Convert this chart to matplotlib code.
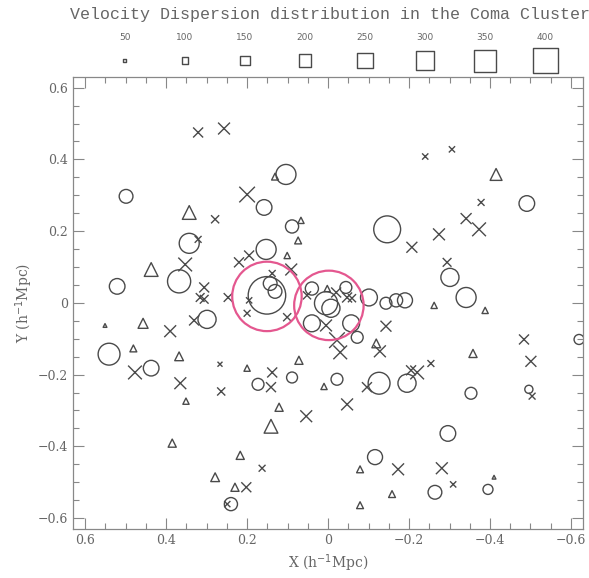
import numpy as np
import matplotlib
matplotlib.use("Agg")
import matplotlib.pyplot as plt
from matplotlib.ticker import MultipleLocator

# galaxies drawn as circles: x, y (h^-1 Mpc), velocity dispersion (km/s)
circ_x = [0.499, 0.521, 0.343, 0.368, 0.299, 0.104, 0.158, 0.089, 0.153, -0.146,
          -0.491, -0.301, -0.341, 0.541, 0.437, 0.240, 0.173, 0.089, -0.022, -0.126,
          -0.195, -0.116, -0.353, -0.296, -0.264, -0.395, -0.496, -0.620, 0.151, 0.143,
          0.131, 0.040, -0.044, 0.005, -0.007, 0.040, -0.057, -0.072, -0.101, -0.143,
          -0.168, -0.190]
circ_y = [0.297, 0.046, 0.166, 0.060, -0.046, 0.358, 0.266, 0.213, 0.149, 0.205,
          0.277, 0.071, 0.015, -0.143, -0.182, -0.561, -0.227, -0.208, -0.213, -0.224,
          -0.224, -0.430, -0.252, -0.364, -0.528, -0.520, -0.241, -0.102, 0.021, 0.054,
          0.032, 0.040, 0.043, -0.001, -0.015, -0.057, -0.057, -0.096, 0.015, -0.001,
          0.007, 0.007]
circ_sig = [220, 250, 320, 370, 290, 320, 250, 210, 320, 430,
            250, 290, 320, 350, 250, 210, 190, 175, 190, 350,
            290, 240, 190, 250, 220, 160, 130, 160, 600, 220,
            220, 210, 190, 370, 290, 270, 270, 190, 270, 190,
            210, 240]

tri_x = [0.343, 0.437, 0.067, 0.074, 0.101, 0.131, -0.415, -0.262, -0.388, 0.551,
         0.457, 0.481, 0.368, 0.351, 0.385, 0.279, 0.217, 0.230, 0.200, 0.072,
         0.121, 0.141, 0.010, -0.119, -0.079, -0.079, -0.158, -0.358, -0.410, 0.002]
tri_y = [0.252, 0.093, 0.230, 0.174, 0.132, 0.352, 0.358, -0.007, -0.021, -0.063,
         -0.057, -0.127, -0.149, -0.274, -0.391, -0.486, -0.425, -0.514, -0.182, -0.160,
         -0.291, -0.344, -0.233, -0.113, -0.464, -0.564, -0.533, -0.141, -0.486, 0.040]
tri_sig = [220, 220, 100, 110, 100, 110, 190, 100, 100, 60,
           160, 110, 140, 100, 130, 140, 130, 130, 100, 130,
           130, 220, 100, 140, 110, 110, 110, 130, 60, 100]

crs_x = [0.321, 0.257, 0.279, 0.321, 0.353, 0.306, 0.316, 0.306, 0.247, 0.200,
         0.195, 0.220, 0.091, 0.138, 0.195, 0.200, 0.101, 0.052, -0.020, -0.047,
         -0.059, 0.005, -0.022, -0.030, -0.143, -0.128, -0.207, 0.138, 0.141, 0.267,
         0.264, 0.054, -0.047, -0.096, -0.205, -0.220, -0.254, 0.163, 0.202, -0.173,
         -0.281, -0.309, -0.484, -0.501, -0.504, 0.477, 0.390, 0.331, 0.365, 0.249,
         -0.240, -0.306, -0.378, -0.341, -0.373, -0.274, -0.294]
crs_y = [0.475, 0.486, 0.233, 0.177, 0.107, 0.043, 0.015, 0.010, 0.015, 0.302,
         0.132, 0.113, 0.093, 0.082, 0.007, -0.029, -0.040, 0.021, 0.029, 0.015,
         0.013, -0.063, -0.104, -0.138, -0.065, -0.135, 0.155, -0.194, -0.235, -0.171,
         -0.247, -0.316, -0.283, -0.235, -0.188, -0.194, -0.169, -0.461, -0.514, -0.464,
         -0.461, -0.506, -0.102, -0.163, -0.260, -0.194, -0.079, -0.049, -0.224, -0.561,
         0.408, 0.428, 0.280, 0.235, 0.205, 0.191, 0.113]
crs_sig = [160, 190, 130, 110, 220, 160, 140, 140, 140, 250,
           160, 160, 190, 110, 100, 110, 130, 130, 160, 160,
           130, 190, 250, 220, 175, 190, 175, 160, 160, 80,
           130, 190, 190, 160, 160, 220, 110, 110, 160, 190,
           190, 100, 160, 175, 110, 220, 190, 160, 190, 100,
           100, 100, 110, 175, 220, 190, 140]

# substructure centres (pink rings)
sub_x = [0.151, -0.002]
sub_y = [0.018, -0.007]

leg_sig = [50, 100, 150, 200, 250, 300, 350, 400]

ink = "#4a4a4a"
txt = "#666666"


def msize(sig):
    # marker edge in points: ~1 px per 16 km/s at 100 dpi
    return (np.asarray(sig) / 16.0 * 0.72) ** 2


fig = plt.figure(figsize=(5.89, 5.78), dpi=100)
ax = fig.add_axes([0.124, 0.085, 0.866, 0.782])

ax.scatter(circ_x, circ_y, s=msize(circ_sig), marker="o", facecolors="none",
           edgecolors=ink, linewidths=1.0)
ax.scatter(tri_x, tri_y, s=msize(tri_sig), marker="^", facecolors="none",
           edgecolors=ink, linewidths=1.0)
ax.scatter(crs_x, crs_y, s=msize(crs_sig), marker="x", c=ink, linewidths=1.0)
ax.scatter(sub_x, sub_y, s=50.0 ** 2, marker="o", facecolors="none",
           edgecolors="#e4578f", linewidths=1.6)

ax.set_xlim(0.63, -0.63)
ax.set_ylim(-0.63, 0.63)
ax.xaxis.set_major_locator(MultipleLocator(0.2))
ax.yaxis.set_major_locator(MultipleLocator(0.2))
ax.xaxis.set_minor_locator(MultipleLocator(0.05))
ax.yaxis.set_minor_locator(MultipleLocator(0.05))
ax.tick_params(which="both", direction="in", top=True, right=True, colors="#888888",
               labelcolor=txt, labelsize=9)
ax.tick_params(which="major", length=8, width=0.8)
ax.tick_params(which="minor", length=4, width=0.8)
ax.set_xticks(np.arange(-0.6, 0.61, 0.2))
ax.set_xticklabels(["−0.6", "−0.4", "−0.2", "0", "0.2", "0.4", "0.6"],
                   family="DejaVu Serif")
ax.set_yticks(np.arange(-0.6, 0.61, 0.2))
ax.set_yticklabels(["−0.6", "−0.4", "−0.2", "0", "0.2", "0.4", "0.6"],
                   family="DejaVu Serif")
for sp in ax.spines.values():
    sp.set_color("#888888")
    sp.set_linewidth(0.9)

ax.set_xlabel("X (h$^{-1}$Mpc)", family="DejaVu Serif", color=txt, fontsize=10, labelpad=4)
ax.set_ylabel("Y (h$^{-1}$Mpc)", family="DejaVu Serif", color=txt, fontsize=10, labelpad=2)

fig.text(0.56, 0.975, "Velocity Dispersion distribution in the Coma Cluster",
         ha="center", va="center", family="Liberation Mono", fontsize=12, color=txt)

# size key along the top
lax = fig.add_axes([0.0, 0.87, 1.0, 0.09])
lax.set_xlim(0, 1)
lax.set_ylim(0, 1)
lax.axis("off")
kx = 0.212 + 0.1019 * np.arange(len(leg_sig))
lax.scatter(kx, np.full(len(kx), 0.28), s=msize(leg_sig), marker="s",
            facecolors="none", edgecolors=ink, linewidths=1.0)
for xx, sg in zip(kx, leg_sig):
    lax.text(xx, 0.72, str(sg), ha="center", va="center", fontsize=6.5,
             color=txt, family="DejaVu Sans")

fig.savefig("out.png", dpi=100)
